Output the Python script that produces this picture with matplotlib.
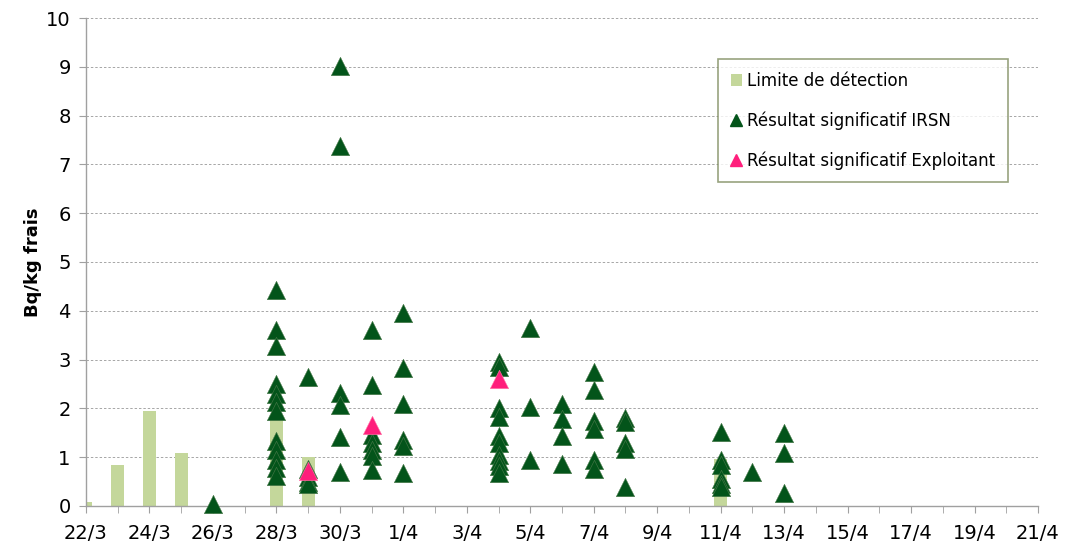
import numpy as np
import pandas as pd
import matplotlib
matplotlib.use('Agg')
import matplotlib.pyplot as plt
from matplotlib.lines import Line2D
from matplotlib.patches import Patch

# Jours de la periode (axe des x)
days = pd.date_range('2011-03-22', '2011-04-21', freq='D')
day_labels = [f'{d.day}/{d.month}' for d in days]

# Limite de detection (barres)
ld_dates = ['22/3', '23/3', '24/3', '25/3', '28/3', '29/3', '11/4']
ld_values = [0.08, 0.84, 1.95, 1.09, 1.83, 1.01, 0.97]

# Resultats significatifs IRSN
irsn_dates = (['26/3']
              + ['28/3'] * 12
              + ['29/3'] * 5
              + ['30/3'] * 6
              + ['31/3'] * 7
              + ['1/4'] * 6
              + ['4/4'] * 10
              + ['5/4'] * 3
              + ['6/4'] * 4
              + ['7/4'] * 6
              + ['8/4'] * 5
              + ['11/4'] * 6
              + ['12/4']
              + ['13/4'] * 3)
irsn_values = ([0.05]
               + [4.43, 3.6, 3.28, 2.5, 2.3, 2.14, 1.95, 1.33, 1.15, 0.94, 0.78, 0.62]
               + [2.65, 0.75, 0.6, 0.5, 0.45]
               + [9.02, 7.38, 2.31, 2.07, 1.42, 0.7]
               + [3.6, 2.48, 1.45, 1.3, 1.15, 1.02, 0.74]
               + [3.95, 2.82, 2.09, 1.35, 1.23, 0.68]
               + [2.95, 2.85, 2.0, 1.82, 1.43, 1.3, 1.05, 0.92, 0.82, 0.68]
               + [3.65, 2.03, 0.95]
               + [2.1, 1.78, 1.44, 0.86]
               + [2.75, 2.38, 1.75, 1.58, 0.95, 0.75]
               + [1.8, 1.72, 1.29, 1.17, 0.38]
               + [1.52, 0.95, 0.85, 0.55, 0.45, 0.38]
               + [0.7]
               + [1.49, 1.08, 0.27])

# Resultats significatifs Exploitant
expl_dates = ['29/3', '31/3', '4/4']
expl_values = [0.72, 1.65, 2.6]

pos = {lab: i for i, lab in enumerate(day_labels)}

green_bar = '#c4d79b'
green_dark = '#03541a'
pink = '#ff1f7c'

plt.rcParams['font.family'] = ['DejaVu Sans']

fig = plt.figure(figsize=(10.69, 5.46), dpi=100)
ax = fig.add_axes([0.0804, 0.0733, 0.8906, 0.8937])

ax.bar([pos[d] for d in ld_dates], ld_values, width=0.41, color=green_bar,
       zorder=2)
ax.scatter([pos[d] for d in irsn_dates], irsn_values, marker='^', s=175,
           color=green_dark, edgecolors='#4a7a4a', linewidths=0.4, zorder=3,
           clip_on=False)
ax.scatter([pos[d] for d in expl_dates], expl_values, marker='^', s=175,
           color=pink, edgecolors='#ff7aa8', linewidths=0.4, zorder=4,
           clip_on=False)

ax.set_xlim(0, len(days) - 1)
ax.set_ylim(0, 10)
ax.set_yticks(np.arange(0, 11, 1))
ax.set_xticks(np.arange(0, len(days), 2))
ax.set_xticklabels(day_labels[::2])
ax.set_xticks(np.arange(0, len(days), 1), minor=True)

ax.yaxis.grid(True, linestyle=(0, (2.5, 2)), color='#a6a6a6', linewidth=0.7)
ax.set_axisbelow(True)
for s in ['top', 'right']:
    ax.spines[s].set_visible(False)
for s in ['left', 'bottom']:
    ax.spines[s].set_color('#a0a0a0')
    ax.spines[s].set_linewidth(1.0)
ax.tick_params(axis='both', which='both', direction='out', color='#a0a0a0',
               length=5, labelsize=14, colors='#a0a0a0', labelcolor='black')
ax.tick_params(axis='x', pad=8)
ax.tick_params(axis='y', pad=6)

ax.set_ylabel('Bq/kg frais', fontsize=13, fontweight='bold', labelpad=3)

handles = [
    Patch(facecolor=green_bar, edgecolor='none'),
    Line2D([], [], marker='^', linestyle='none', color=green_dark, markersize=8),
    Line2D([], [], marker='^', linestyle='none', color=pink, markersize=8),
]
labels = ['Limite de détection', 'Résultat significatif IRSN',
          'Résultat significatif Exploitant']
leg = ax.legend(handles, labels, loc='upper left',
                bbox_to_anchor=(0.664, 0.916), fontsize=12,
                frameon=True, fancybox=False, handlelength=0.7,
                handletextpad=0.3, labelspacing=1.3, borderpad=0.75,
                borderaxespad=0)
leg.get_frame().set_edgecolor('#7f8c5f')
leg.get_frame().set_linewidth(1.2)

fig.savefig('out.png', dpi=100)
